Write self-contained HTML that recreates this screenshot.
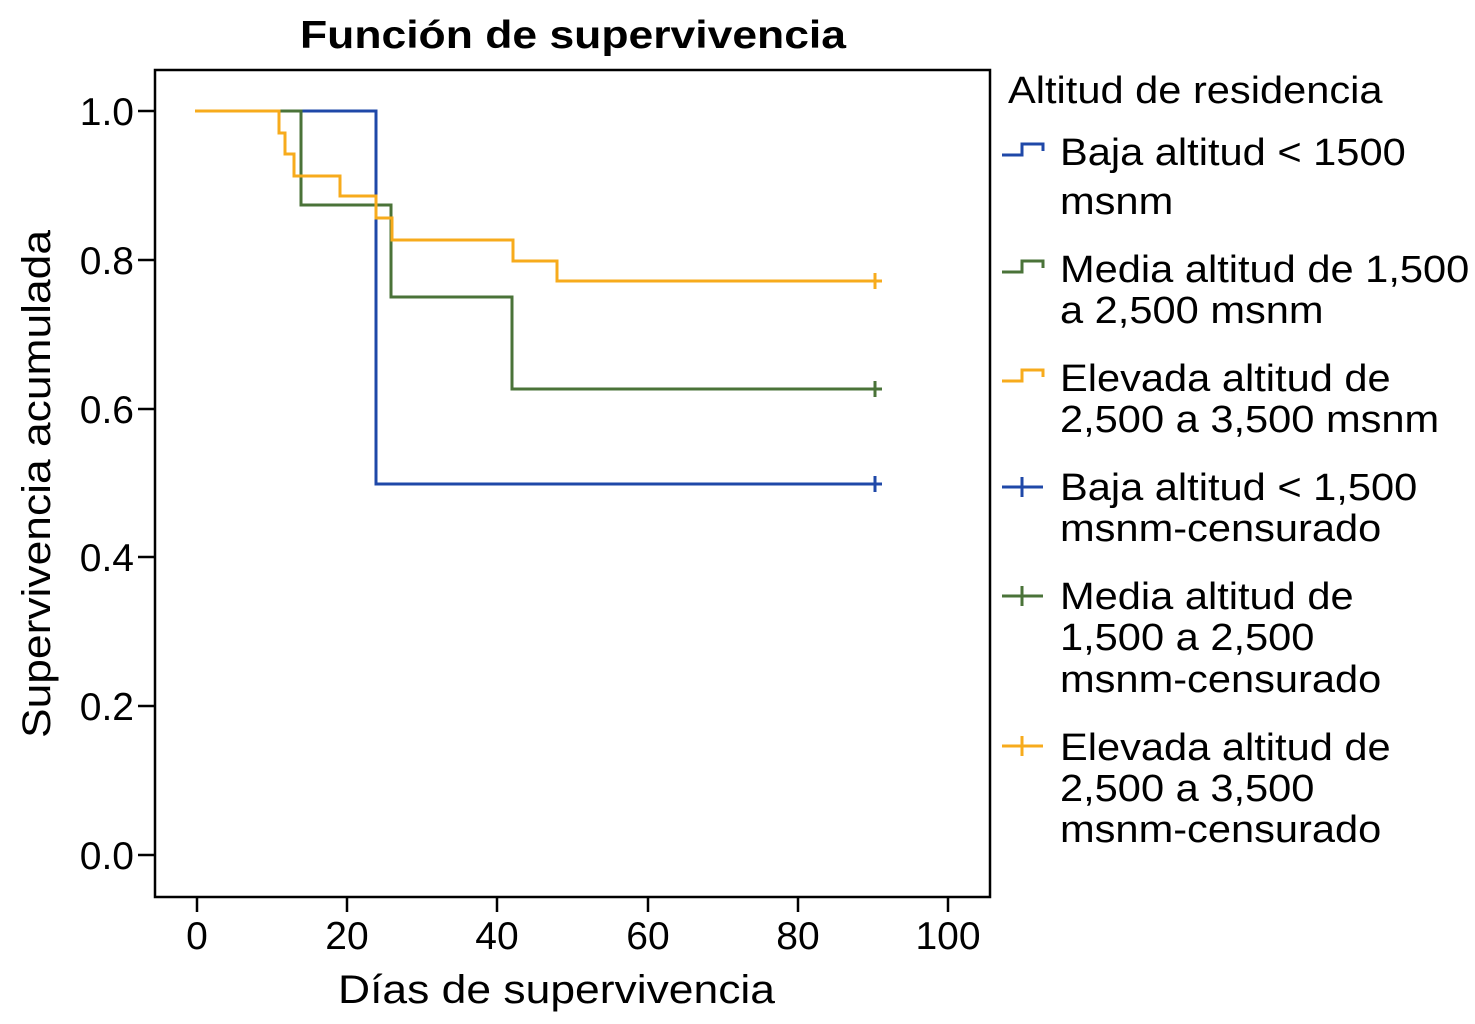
<!DOCTYPE html>
<html><head><meta charset="utf-8"><style>
html,body{margin:0;padding:0;background:#fff;}
svg{display:block;}
text{font-family:"Liberation Sans",sans-serif;fill:#000;}
</style></head><body>
<svg width="1475" height="1024" viewBox="0 0 1475 1024" xmlns="http://www.w3.org/2000/svg">
<text x="573" y="48" font-size="39" font-weight="bold" text-anchor="middle" textLength="546" lengthAdjust="spacingAndGlyphs">Función de supervivencia</text>
<rect x="155" y="70" width="835" height="827" fill="none" stroke="#000" stroke-width="2.5"/>
<g stroke="#000" stroke-width="2.5">
<line x1="138" y1="111" x2="155" y2="111"/>
<line x1="138" y1="260" x2="155" y2="260"/>
<line x1="138" y1="409" x2="155" y2="409"/>
<line x1="138" y1="557" x2="155" y2="557"/>
<line x1="138" y1="706" x2="155" y2="706"/>
<line x1="138" y1="855" x2="155" y2="855"/>
<line x1="197" y1="897" x2="197" y2="912"/>
<line x1="347" y1="897" x2="347" y2="912"/>
<line x1="497" y1="897" x2="497" y2="912"/>
<line x1="648" y1="897" x2="648" y2="912"/>
<line x1="798" y1="897" x2="798" y2="912"/>
<line x1="948" y1="897" x2="948" y2="912"/>
</g>
<g font-size="39" text-anchor="end">
<text x="134" y="125">1.0</text>
<text x="134" y="274">0.8</text>
<text x="134" y="423">0.6</text>
<text x="134" y="571">0.4</text>
<text x="134" y="720">0.2</text>
<text x="134" y="869">0.0</text>
</g>
<g font-size="39" text-anchor="middle">
<text x="197" y="949">0</text>
<text x="347" y="949">20</text>
<text x="497" y="949">40</text>
<text x="648" y="949">60</text>
<text x="798" y="949">80</text>
<text x="948" y="949">100</text>
</g>
<text x="338" y="1003" font-size="40" textLength="437" lengthAdjust="spacingAndGlyphs">Días de supervivencia</text>
<text transform="translate(50,738) rotate(-90)" font-size="40" textLength="508" lengthAdjust="spacingAndGlyphs">Supervivencia acumulada</text>
<g fill="none" stroke-width="3">
<polyline stroke="#1f48a8" points="197,111 376,111 376,484 875,484"/>
<polyline stroke="#4a7338" points="245,111 301,111 301,205 391,205 391,297 512,297 512,389 875,389"/>
<polyline stroke="#f7ab1c" points="195,111 279,111 279,133 285,133 285,154 294,154 294,176 340,176 340,196 376,196 376,218 392,218 392,240 513,240 513,261 557,261 557,281 875,281"/>
<path stroke="#1f48a8" d="M875,476V492M868,484H882"/>
<path stroke="#4a7338" d="M875,381V397M868,389H882"/>
<path stroke="#f7ab1c" d="M875,273V289M868,281H882"/>
</g>
<g font-size="38" transform="translate(1008,0) scale(1.095,1) translate(-1008,0)">
<text x="1008" y="103">Altitud de residencia</text>
</g>
<g font-size="38" transform="translate(1060,0) scale(1.095,1) translate(-1060,0)">
<text x="1060" y="165">Baja altitud &lt; 1500</text>
<text x="1060" y="214">msnm</text>
<text x="1060" y="282">Media altitud de 1,500</text>
<text x="1060" y="323">a 2,500 msnm</text>
<text x="1060" y="391">Elevada altitud de</text>
<text x="1060" y="432">2,500 a 3,500 msnm</text>
<text x="1060" y="500">Baja altitud &lt; 1,500</text>
<text x="1060" y="541">msnm-censurado</text>
<text x="1060" y="609">Media altitud de</text>
<text x="1060" y="650">1,500 a 2,500</text>
<text x="1060" y="692">msnm-censurado</text>
<text x="1060" y="760">Elevada altitud de</text>
<text x="1060" y="801">2,500 a 3,500</text>
<text x="1060" y="842">msnm-censurado</text>
</g>
<g fill="none" stroke-width="3">
<polyline stroke="#1f48a8" points="1002,155 1022,155 1022,144 1043,144 1043,151"/>
<polyline stroke="#4a7338" points="1002,272 1022,272 1022,261 1043,261 1043,268"/>
<polyline stroke="#f7ab1c" points="1002,381 1022,381 1022,370 1043,370 1043,377"/>
<line stroke="#1f48a8" x1="1002" y1="487" x2="1043" y2="487"/>
<line stroke="#1f48a8" x1="1022" y1="477" x2="1022" y2="497"/>
<line stroke="#4a7338" x1="1002" y1="596" x2="1043" y2="596"/>
<line stroke="#4a7338" x1="1022" y1="586" x2="1022" y2="606"/>
<line stroke="#f7ab1c" x1="1002" y1="746" x2="1043" y2="746"/>
<line stroke="#f7ab1c" x1="1022" y1="736" x2="1022" y2="756"/>
</g>
</svg>
</body></html>
